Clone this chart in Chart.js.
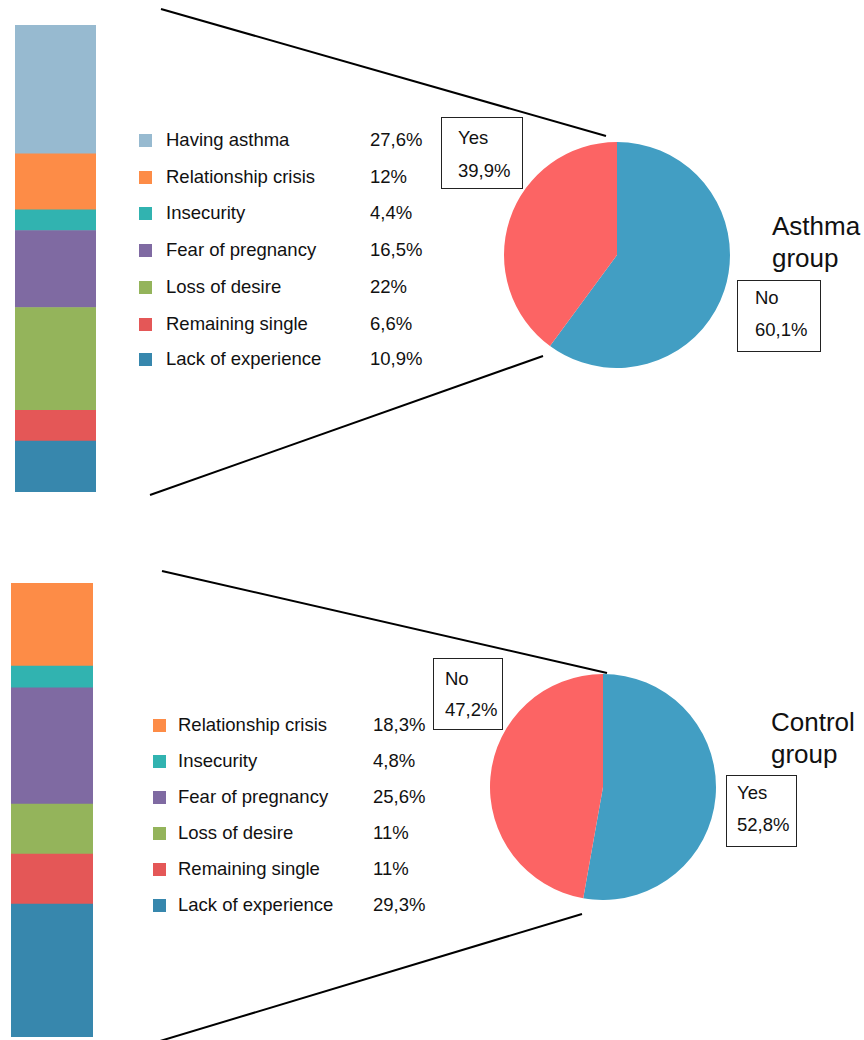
<!DOCTYPE html>
<html>
<head>
<meta charset="utf-8">
<script src="https://cdn.jsdelivr.net/npm/chart.js@4"></script>
<style>
    body { margin: 0; background: #fff; width: 864px; height: 1040px; overflow: hidden; position: relative; font-family: "Liberation Sans", Arial, Helvetica, sans-serif; color: #111; }
    canvas, .txt, .sq, .box, svg { position: absolute; }
    .txt { white-space: nowrap; line-height: 1; }
    .box { border: 1.5px solid #222; box-sizing: border-box; background: #fff; }
</style>
</head>
<body>
<svg width="864" height="1040" style="left:0;top:0">
    <line x1="161" y1="9" x2="606" y2="136" stroke="#000" stroke-width="2"/>
    <line x1="150" y1="495" x2="543" y2="356" stroke="#000" stroke-width="2"/>
    <line x1="162" y1="571" x2="607" y2="673" stroke="#000" stroke-width="2"/>
    <line x1="160" y1="1041" x2="582" y2="914" stroke="#000" stroke-width="2"/>
</svg>
<canvas id="asthma-bar" width="81" height="467" style="left:15px;top:25px"></canvas>
<canvas id="asthma-pie" width="226" height="226" style="left:504px;top:142px"></canvas>
<canvas id="control-bar" width="82" height="454" style="left:11px;top:583px"></canvas>
<canvas id="control-pie" width="226" height="226" style="left:490px;top:674px"></canvas>
<script>
// reasons for not being in a relationship, % of those who answered
const asthmaReasons = ['Having asthma', 'Relationship crisis', 'Insecurity', 'Fear of pregnancy', 'Loss of desire', 'Remaining single', 'Lack of experience'];
const asthmaReasonValues = [27.6, 12, 4.4, 16.5, 22, 6.6, 10.9];
const controlReasons = ['Relationship crisis', 'Insecurity', 'Fear of pregnancy', 'Loss of desire', 'Remaining single', 'Lack of experience'];
const controlReasonValues = [18.3, 4.8, 25.6, 11, 11, 29.3];

// pie answers
const asthmaAnswers = ['No', 'Yes'];
const asthmaAnswerValues = [60.1, 39.9];
const controlAnswers = ['Yes', 'No'];
const controlAnswerValues = [52.8, 47.2];

const reasonColors = {
    'Having asthma': '#97bad0',
    'Relationship crisis': '#fd8c47',
    'Insecurity': '#31b3b0',
    'Fear of pregnancy': '#7f6aa2',
    'Loss of desire': '#94b45b',
    'Remaining single': '#e45757',
    'Lack of experience': '#3787ad'
};
const pieBlue = '#429ec3';
const pieRed = '#fc6464';

const fmt = (v) => String(v).replace('.', ',') + '%';
const textSize = 18.5;

// put a text so that its baseline lands on y
function addText(str, x, baseline, size) {
    const el = document.createElement('div');
    el.className = 'txt';
    el.textContent = str;
    el.style.fontSize = size + 'px';
    el.style.left = x + 'px';
    el.style.top = (baseline - 0.8465 * size) + 'px';
    document.body.appendChild(el);
}

function addLegend(labels, values, sqX, textX, valX, baselines) {
    labels.forEach((label, i) => {
        const sq = document.createElement('div');
        sq.className = 'sq';
        sq.style.left = sqX + 'px';
        sq.style.top = (baselines[i] - 13) + 'px';
        sq.style.width = '13px';
        sq.style.height = '13px';
        sq.style.background = reasonColors[label];
        document.body.appendChild(sq);
        addText(label, textX, baselines[i], textSize);
        addText(fmt(values[i]), valX, baselines[i], textSize);
    });
}

function addBox(x, y, w, h, label, value, tx, b1, b2) {
    const box = document.createElement('div');
    box.className = 'box';
    box.style.left = x + 'px';
    box.style.top = y + 'px';
    box.style.width = w + 'px';
    box.style.height = h + 'px';
    document.body.appendChild(box);
    addText(label, tx, b1, textSize);
    addText(fmt(value), tx, b2, textSize);
}

// stacked single bar, first dataset sits at the bottom
function stackBar(el, labels, values) {
    const datasets = [];
    for (let i = labels.length - 1; i >= 0; i--) {
        datasets.push({
            label: labels[i],
            data: [values[i]],
            backgroundColor: reasonColors[labels[i]],
            borderWidth: 0,
            barPercentage: 1,
            categoryPercentage: 1
        });
    }
    return new Chart(el, {
        type: 'bar',
        data: { labels: [''], datasets: datasets },
        options: {
            responsive: false,
            animation: false,
            layout: { padding: 0 },
            plugins: { legend: { display: false }, tooltip: { enabled: false } },
            scales: {
                x: { stacked: true, display: false },
                y: { stacked: true, display: false, min: 0, max: 100 }
            }
        }
    });
}

function pie(el, labels, values) {
    return new Chart(el, {
        type: 'pie',
        data: {
            labels: labels,
            datasets: [{
                data: values,
                backgroundColor: [pieBlue, pieRed],
                borderWidth: 0
            }]
        },
        options: {
            responsive: false,
            animation: false,
            layout: { padding: 0 },
            plugins: { legend: { display: false }, tooltip: { enabled: false } }
        }
    });
}

stackBar(document.getElementById('asthma-bar'), asthmaReasons, asthmaReasonValues);
pie(document.getElementById('asthma-pie'), asthmaAnswers, asthmaAnswerValues);
stackBar(document.getElementById('control-bar'), controlReasons, controlReasonValues);
pie(document.getElementById('control-pie'), controlAnswers, controlAnswerValues);

addLegend(asthmaReasons, asthmaReasonValues, 139, 166, 370, [147, 184, 220, 257, 294, 331, 366]);
addLegend(controlReasons, controlReasonValues, 153, 178, 373, [732, 768, 804, 840, 876, 912]);

addBox(441, 117, 82, 72, asthmaAnswers[1], asthmaAnswerValues[1], 458, 145, 178);
addBox(737, 280, 84, 72, asthmaAnswers[0], asthmaAnswerValues[0], 755, 305, 337);
addBox(433, 658, 70, 72, controlAnswers[1], controlAnswerValues[1], 445, 686, 717);
addBox(726, 775, 71, 72, controlAnswers[0], controlAnswerValues[0], 737, 800, 832);

addText('Asthma', 772, 235, 26);
addText('group', 772, 267, 26);
addText('Control', 771, 731, 26);
addText('group', 771, 763, 26);
</script>
</body>
</html>
